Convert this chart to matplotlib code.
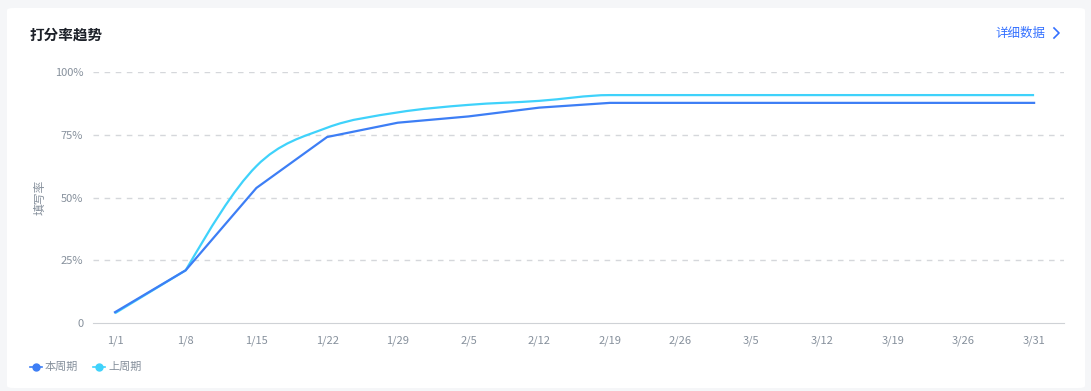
import numpy as np
import matplotlib.pyplot as plt
from matplotlib.path import Path
from matplotlib.patches import PathPatch, FancyBboxPatch
from matplotlib.lines import Line2D

plt.rcParams['font.family'] = ['Noto Sans CJK SC', 'DejaVu Sans']

#==================data==================
dates = ["1/1", "1/8", "1/15", "1/22", "1/29", "2/5", "2/12", "2/19",
         "2/26", "3/5", "3/12", "3/19", "3/26", "3/31"]
this_period = [4.3, 21, 53.8, 74.1, 79.8, 82.3, 85.8, 87.7,
               87.7, 87.7, 87.7, 87.7, 87.7, 87.7]   # 本周期 (%)
last_period = [3.9, 21, 62.5, 77.8, 83.9, 86.9, 88.5, 90.8,
               90.8, 90.8, 90.8, 90.8, 90.8, 90.8]   # 上周期 (%)
yticks = [0, 25, 50, 75, 100]
ytick_labels = ["0", "25%", "50%", "75%", "100%"]

blue = "#3d7ef5"
cyan = "#3fd2fb"
grey_txt = "#86909c"


def smooth_path(xs, ys):
    # first segment straight, then monotone cubic (like d3 monotoneX)
    xs = np.asarray(xs, float)[1:]
    ys = np.asarray(ys, float)
    y0 = ys[0]
    ys = ys[1:]
    n = len(xs)
    h = np.diff(xs)
    s = np.diff(ys) / h
    t = np.zeros(n)
    for i in range(1, n - 1):
        if s[i - 1] * s[i] <= 0:
            t[i] = 0
        else:
            p = (s[i - 1] * h[i] + s[i] * h[i - 1]) / (h[i - 1] + h[i])
            t[i] = 2 * min(abs(s[i - 1]), abs(s[i]), 0.5 * abs(p)) * np.sign(s[i])
    t[0] = (3 * s[0] - t[1]) / 2
    t[-1] = (3 * s[-1] - t[-2]) / 2
    verts = [(xs[0] - 1, y0), (xs[0], ys[0])]
    codes = [Path.MOVETO, Path.LINETO]
    for i in range(n - 1):
        d = h[i] / 3
        verts += [(xs[i] + d, ys[i] + t[i] * d),
                  (xs[i + 1] - d, ys[i + 1] - t[i + 1] * d),
                  (xs[i + 1], ys[i + 1])]
        codes += [Path.CURVE4] * 3
    return Path(verts, codes)


x = np.arange(len(dates))

fig = plt.figure(figsize=(10.91, 3.91), dpi=100)
fig.patch.set_facecolor("#f5f6f8")
card = FancyBboxPatch((7 / 1091, 3 / 391), 1078 / 1091, 380 / 391,
                      boxstyle="round,pad=0,rounding_size=0.006",
                      transform=fig.transFigure, facecolor="white",
                      edgecolor="none", zorder=-10)
fig.patches.append(card)

ax = fig.add_axes([93 / 1091, 1 - 323 / 391, 971 / 1091, 251 / 391])
ax.set_zorder(2)
ax.set_facecolor("none")

ax.add_patch(PathPatch(smooth_path(x, last_period), facecolor="none",
                       edgecolor=cyan, linewidth=1.6, zorder=2))
ax.plot(x, this_period, color=blue, linewidth=1.6, zorder=3,
        solid_joinstyle="round")

ax.set_xlim(-0.311, 13.423)
ax.set_ylim(0, 100)
ax.set_xticks(x)
ax.set_xticklabels(dates)
ax.set_yticks(yticks)
ax.set_yticklabels(ytick_labels)
for v in yticks[1:]:
    ax.axhline(v, color="#d5d7db", linestyle=(0, (4, 4)), linewidth=1, zorder=1)
for s in ["top", "right", "left"]:
    ax.spines[s].set_visible(False)
ax.spines["bottom"].set_color("#cfd2d6")
ax.tick_params(axis="both", length=0, colors=grey_txt, labelsize=8)
ax.tick_params(axis="x", pad=9)
ax.tick_params(axis="y", pad=7)
ax.set_ylabel("填写率", color=grey_txt, fontsize=8.5, labelpad=6)

fig.text(30 / 1091, 1 - 35 / 391, "打分率趋势", fontsize=10.5, color="#1d2129",
         fontweight="bold", va="center", ha="left")
fig.text(1045 / 1091, 1 - 33 / 391, "详细数据", fontsize=9, color="#3370ff",
         va="center", ha="right")
fig.add_artist(Line2D([1054 / 1091, 1059 / 1091, 1054 / 1091],
                      [1 - 28 / 391, 1 - 33 / 391, 1 - 38 / 391],
                      transform=fig.transFigure, color="#3370ff", linewidth=1.2))

# legend
for lx, col, lab in [(30, blue, "本周期"), (93, cyan, "上周期")]:
    yy = 1 - 367 / 391
    for a, b in [(lx, lx + 3), (lx + 9, lx + 12)]:
        fig.add_artist(Line2D([a / 1091, b / 1091], [yy, yy],
                              transform=fig.transFigure, color=col, linewidth=1.2))
    fig.add_artist(Line2D([(lx + 6) / 1091], [yy], transform=fig.transFigure,
                          marker="o", markersize=5, color=col, linestyle="none"))
    fig.text((lx + 15) / 1091, yy, lab, fontsize=8, color=grey_txt,
             va="center", ha="left")

fig.savefig("out.png", dpi=100, facecolor=fig.get_facecolor())
